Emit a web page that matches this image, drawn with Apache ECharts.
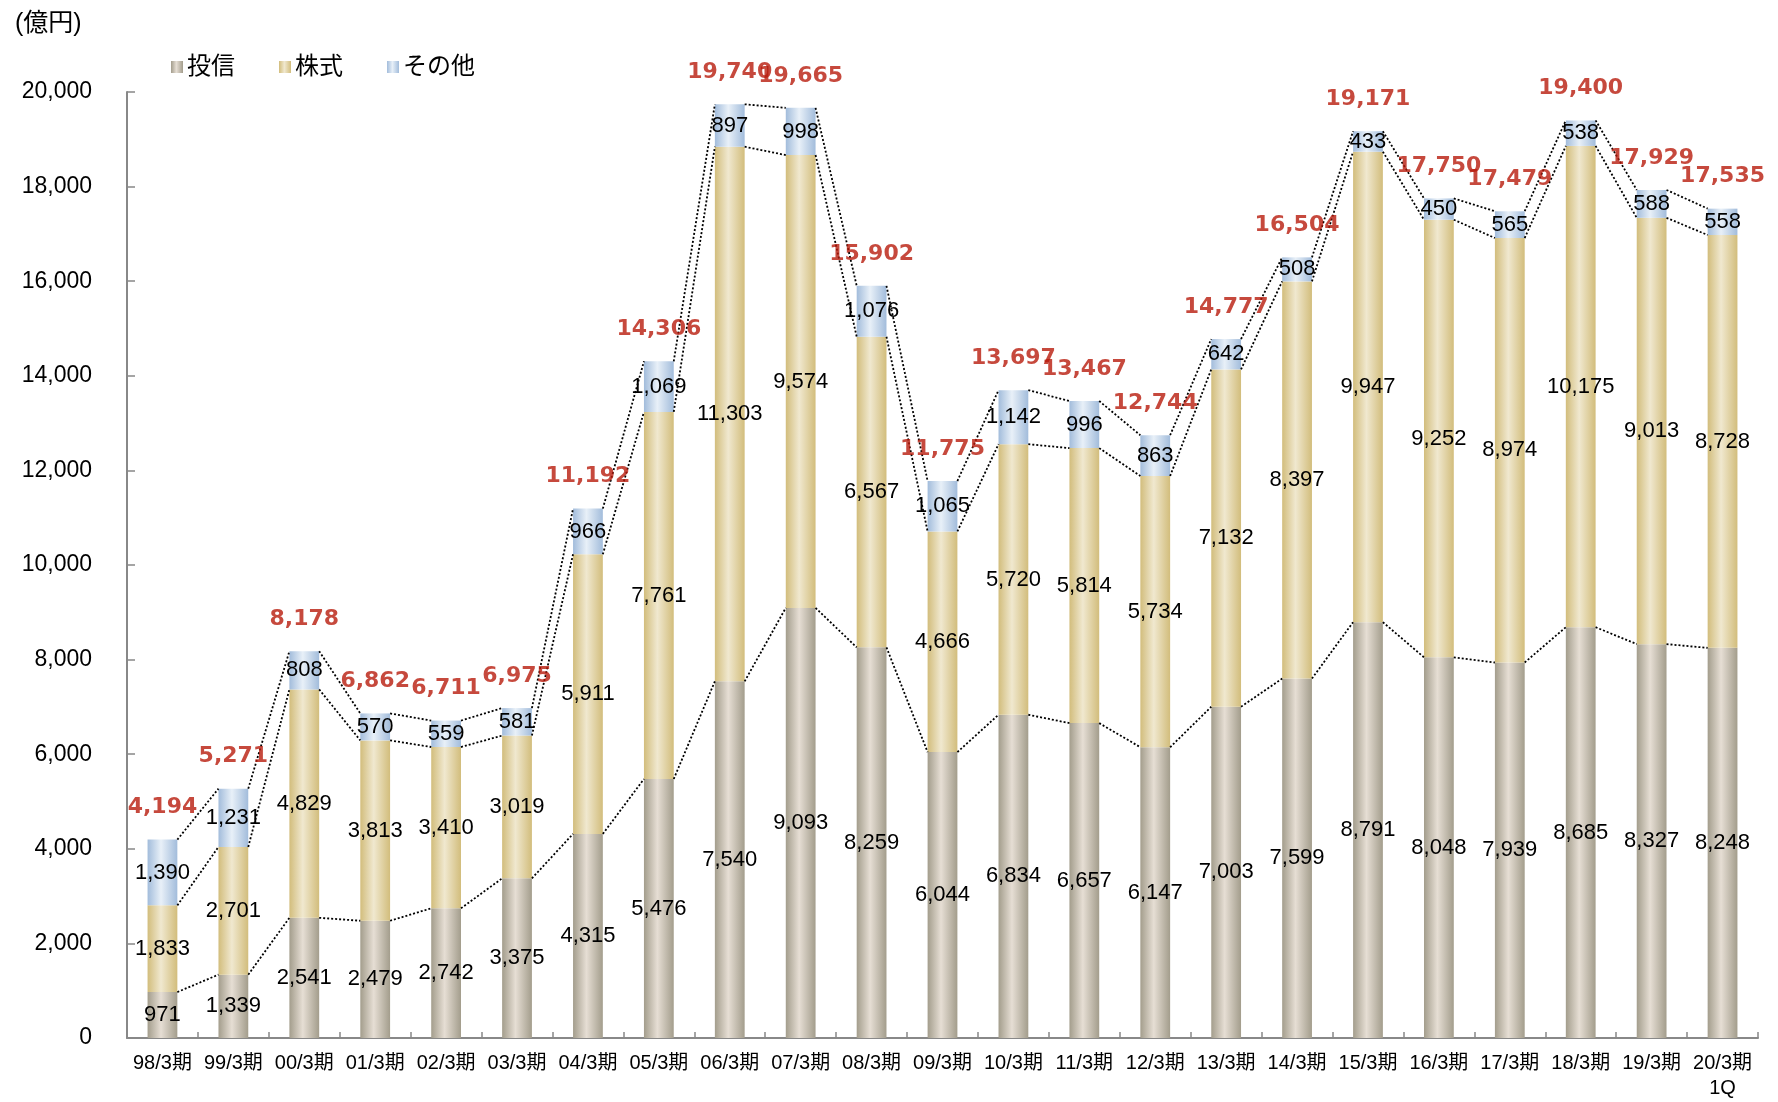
<!DOCTYPE html>
<html>
<head>
<meta charset="utf-8">
<script src="https://cdn.jsdelivr.net/npm/echarts@6/dist/echarts.min.js"></script>
<style>
  html, body { margin: 0; padding: 0; background: #fff; }
  #chart { width: 1778px; height: 1102px; }
</style>
</head>
<body>
<div id="chart"></div>
<script>
const categories = ["98/3期", "99/3期", "00/3期", "01/3期", "02/3期", "03/3期", "04/3期", "05/3期", "06/3期", "07/3期", "08/3期", "09/3期", "10/3期", "11/3期", "12/3期", "13/3期", "14/3期", "15/3期", "16/3期", "17/3期", "18/3期", "19/3期", "20/3期\n1Q"];
const toushin = [971, 1339, 2541, 2479, 2742, 3375, 4315, 5476, 7540, 9093, 8259, 6044, 6834, 6657, 6147, 7003, 7599, 8791, 8048, 7939, 8685, 8327, 8248];
const kabushiki = [1833, 2701, 4829, 3813, 3410, 3019, 5911, 7761, 11303, 9574, 6567, 4666, 5720, 5814, 5734, 7132, 8397, 9947, 9252, 8974, 10175, 9013, 8728];
const sonota = [1390, 1231, 808, 570, 559, 581, 966, 1069, 897, 998, 1076, 1065, 1142, 996, 863, 642, 508, 433, 450, 565, 538, 588, 558];
const totals = [4194, 5271, 8178, 6862, 6711, 6975, 11192, 14306, 19740, 19665, 15902, 11775, 13697, 13467, 12744, 14777, 16504, 19171, 17750, 17479, 19400, 17929, 17535];

const chart = echarts.init(document.getElementById("chart"));

const FONT = "'Liberation Sans', Arial, 'Noto Sans CJK JP', sans-serif";
const BOLD_FONT = "'DejaVu Sans', 'Noto Sans CJK JP', sans-serif";
const BAR_RATIO = 0.42;

const grad = (edge, mid) => new echarts.graphic.LinearGradient(0, 0, 1, 0, [
  { offset: 0, color: edge },
  { offset: 0.45, color: mid },
  { offset: 1, color: edge }
]);

const fmt = (v) => v.toLocaleString("en-US");

// 積み上げ境界（投信の上端、株式の上端、合計）
const level1 = toushin.slice();
const level2 = toushin.map((v, i) => v + kabushiki[i]);
const level3 = totals.slice();

// 棒の右上角から次の棒の左上角までの点線
const seriesLineData = (lv) => lv.slice(0, -1).map((v, i) => [i, v, lv[i + 1]]);

const renderSeriesLine = (params, api) => {
  const i = api.value(0);
  const p1 = api.coord([i, api.value(1)]);
  const p2 = api.coord([i + 1, api.value(2)]);
  const half = api.size([1, 0])[0] * BAR_RATIO / 2;
  return {
    type: "line",
    shape: { x1: p1[0] + half, y1: p1[1], x2: p2[0] - half, y2: p2[1] },
    style: { stroke: "#000", lineWidth: 1.8, lineDash: [2, 2] },
    silent: true
  };
};

const segLabel = {
  show: true,
  position: "inside",
  color: "#000",
  fontFamily: FONT,
  fontSize: 22,
  formatter: (p) => fmt(p.value)
};

const lineSeries = [level1, level2, level3].map((lv) => ({
  type: "custom",
  renderItem: renderSeriesLine,
  data: seriesLineData(lv),
  encode: { x: 0, y: [1, 2] },
  z: 5,
  silent: true
}));

const option = {
  backgroundColor: "#fff",
  animation: false,
  title: {
    text: "(億円)",
    left: 10,
    top: 7,
    textStyle: { fontFamily: FONT, fontSize: 25, fontWeight: "normal", color: "#000" }
  },
  legend: {
    data: ["投信", "株式", "その他"],
    left: 166,
    top: 50,
    itemWidth: 12,
    itemHeight: 12,
    itemGap: 44,
    icon: "rect",
    textStyle: { fontFamily: FONT, fontSize: 24, color: "#000", padding: [0, 0, 0, -1] }
  },
  grid: { left: 127, right: 20, top: 92, bottom: 64, containLabel: false, outerBoundsMode: "none" },
  xAxis: {
    type: "category",
    data: categories,
    axisLine: { lineStyle: { color: "#888", width: 2 } },
    axisTick: { show: true, inside: true, length: 6, alignWithLabel: false, lineStyle: { color: "#888", width: 1.5 } },
    axisLabel: { color: "#000", fontFamily: FONT, fontSize: 20, margin: 13, lineHeight: 25, interval: 0 }
  },
  yAxis: {
    type: "value",
    min: 0,
    max: 20000,
    interval: 2000,
    splitLine: { show: false },
    axisLine: { show: true, lineStyle: { color: "#888", width: 2 } },
    axisTick: { show: true, inside: true, length: 8, lineStyle: { color: "#888", width: 1.5 } },
    axisLabel: { color: "#000", fontFamily: FONT, fontSize: 23, margin: 35, formatter: (v) => fmt(v) }
  },
  series: [
    {
      name: "投信",
      type: "bar",
      stack: "total",
      data: toushin,
      barWidth: (BAR_RATIO * 100) + "%",
      itemStyle: { color: grad("#a39d8c", "#e6ded4") },
      label: segLabel,
      z: 2
    },
    {
      name: "株式",
      type: "bar",
      stack: "total",
      data: kabushiki,
      itemStyle: { color: grad("#d2bd7c", "#f0e8cf") },
      label: segLabel,
      z: 2
    },
    {
      name: "その他",
      type: "bar",
      stack: "total",
      data: sonota,
      itemStyle: { color: grad("#a2bcdb", "#e8f0f8") },
      label: segLabel,
      z: 2
    },
    ...lineSeries,
    {
      name: "合計",
      type: "scatter",
      data: totals,
      symbolSize: 0,
      silent: true,
      z: 6,
      label: {
        show: true,
        position: "top",
        distance: 21,
        color: "#b81c0c",
        fontFamily: BOLD_FONT,
        fontWeight: "bold",
        fontSize: 22,
        formatter: (p) => fmt(p.value)
      }
    }
  ]
};

chart.setOption(option);
</script>
</body>
</html>
